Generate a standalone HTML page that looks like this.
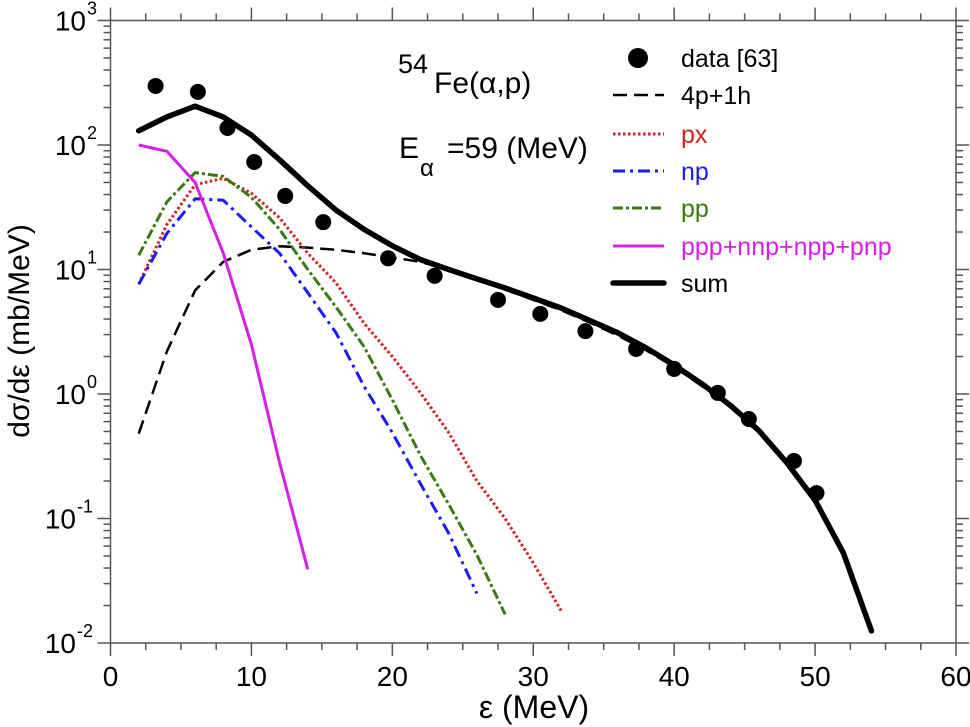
<!DOCTYPE html>
<html><head><meta charset="utf-8"><style>
html,body{margin:0;padding:0;background:#fff;}
svg{display:block;font-family:"Liberation Sans",Arial,sans-serif;}
</style></head><body>
<svg id="chart" width="970" height="727" viewBox="0 0 970 727" xmlns="http://www.w3.org/2000/svg">
<g id="axes"></g>
<g id="series"></g>
<g id="legend"></g>
<text x="29" y="331" font-size="30" text-anchor="middle" transform="rotate(-90 29 331)">dσ/dε (mb/MeV)</text>
<text x="534" y="718" font-size="32" text-anchor="middle">ε (MeV)</text>
<g>
<text x="398" y="73" font-size="27">54</text>
<text x="434" y="93" font-size="30">Fe(α,p)</text>
<text x="399" y="158" font-size="30">E</text>
<text x="420" y="176" font-size="24">α</text>
<text x="447" y="158" font-size="30">=59 (MeV)</text>
</g>
</svg>
<script>
const energies=[2,4,6,8,10,12,14,16,18,20,22,24,26,28,30,32,34,36,38,40,42,44,46,48,50,52,54];
const sumVals=[130,168,205,168,120,76,47,30,21,15.5,12,10,8.4,7.1,5.9,4.9,3.9,3.1,2.35,1.71,1.2,0.81,0.51,0.28,0.14,0.053,0.0125];
const holeVals=[0.48,2.2,6.8,11.5,14.4,15.4,15,14.4,13.5,12.5,11.5,10,8.3,6.9,5.7,4.7,3.75,2.95,2.25,1.65,1.15,0.78,0.49,0.27,0.135,0.052,0.0123];
const pxE=[2,4,6,8,10,12,14,16,18,20,22,24,26,28,30,32];
const pxVals=[7.6,23,48,54,41,26,13.5,7.8,3.7,2.0,1.02,0.49,0.2,0.1,0.044,0.018];
const npE=[2,4,6,8,10,12,14,16,18,20,22,24,26];
const npVals=[7.6,19.5,37,36,22,13.5,6.5,3.1,1.15,0.49,0.19,0.076,0.025];
const ppE=[2,4,6,8,10,12,14,16,18,20,22,24,26,28];
const ppVals=[13,35,60,56,38,21,10,5.0,2.4,0.9,0.32,0.13,0.051,0.017];
const mixE=[2,4,6,8,10,12,14];
const mixVals=[100,89,50,13.6,2.5,0.28,0.039];
const dataE=[3.2,6.2,8.3,10.2,12.4,15.1,19.7,23.0,27.5,30.5,33.7,37.3,40.0,43.1,45.3,48.5,50.1];
const dataVals=[298,267,137,73,39,24,12.3,8.9,5.7,4.4,3.2,2.3,1.59,1.02,0.63,0.29,0.16];
const xTicks=[0,10,20,30,40,50,60];
const yExps=[-2,-1,0,1,2,3];

const NS="http://www.w3.org/2000/svg";
const X0=110.5,X1=956,Y0=643,Y1=20.5;
function xs(e){return X0+(e/60)*(X1-X0);}
function ys(v){return Y0-(Math.log10(v)+2)/5*(Y0-Y1);}
function mk(tag,attrs,parent){const el=document.createElementNS(NS,tag);for(const k in attrs)el.setAttribute(k,attrs[k]);parent.appendChild(el);return el;}
const axes=document.getElementById('axes');
const AX="#555";
let fr=mk('rect',{x:X0,y:Y1,width:X1-X0,height:Y0-Y1,fill:'none',stroke:AX,'stroke-width':1.5},axes);


for(let e=0;e<=60;e+=2.5){
  const major=e%10===0;const L=major?13:7;const x=xs(e);
  let t=mk('line',{x1:x,x2:x,y1:Y0,y2:Y0+L,stroke:AX,'stroke-width':1.5},axes);
  
  
  mk('line',{x1:x,x2:x,y1:Y1,y2:Y1-L,stroke:AX,'stroke-width':1.5},axes);
}
xTicks.forEach(v=>{
  const t=mk('text',{x:xs(v),y:686,'font-size':28,'text-anchor':'middle'},axes);
  t.textContent=v;
  
  
});
yExps.forEach(p=>{
  for(let m=1;m<=9;m++){
    if(p===3&&m>1)break;
    const y=ys(m*Math.pow(10,p));const L=m===1?13:7;
    let t=mk('line',{x1:X0-L,x2:X0,y1:y,y2:y,stroke:AX,'stroke-width':1.5},axes);
    
    
    mk('line',{x1:X1,x2:X1+L,y1:y,y2:y,stroke:AX,'stroke-width':1.5},axes);
  }
  const y=ys(Math.pow(10,p));
  const expStr=String(p);
  const expW=expStr.length*10;
  const g=mk('text',{x:96-expW,y:y+10,'font-size':28,'text-anchor':'end'},axes);
  g.textContent='10';
  
  
  const s=mk('text',{x:96-expW+1,y:y-6,'font-size':18},axes);
  s.textContent=expStr;
  
  
});
const ser=document.getElementById('series');
function line(E,V,style,name){
  const pts=E.map((e,i)=>xs(e).toFixed(1)+','+ys(V[i]).toFixed(1)).join(' ');
  const pl=mk('polyline',Object.assign({points:pts,fill:'none','stroke-linejoin':'round'},style),ser);
  
  
}
const S={
 hole:{stroke:'#000','stroke-width':2.5,'stroke-dasharray':'14 7'},
 px:{stroke:'#d42020','stroke-width':3,'stroke-dasharray':'2.5 2.5'},
 np:{stroke:'#1a1aff','stroke-width':3,'stroke-dasharray':'12 5 3 5'},
 pp:{stroke:'#3a7a10','stroke-width':3,'stroke-dasharray':'10 3 3 3'},
 mix:{stroke:'#d81ee8','stroke-width':3},
 sum:{stroke:'#000','stroke-width':5.5,'stroke-linecap':'round'}
};
line(energies,holeVals,S.hole,'line-4p1h');
line(pxE,pxVals,S.px,'line-px');
line(npE,npVals,S.np,'line-np');
line(ppE,ppVals,S.pp,'line-pp');
line(mixE,mixVals,S.mix,'line-ppp-nnp-npp-pnp');
line(energies,sumVals,S.sum,'line-sum');
dataE.forEach((e,i)=>{
  const c=mk('circle',{cx:xs(e),cy:ys(dataVals[i]),r:8,fill:'#000'},ser);
  
  
});
const leg=document.getElementById('legend');
const items=[['data [63]',null,'#000'],['4p+1h',S.hole,'#000'],['px',S.px,'#d42020'],['np',S.np,'#1a1aff'],['pp',S.pp,'#3a7a10'],['ppp+nnp+npp+pnp',S.mix,'#d81ee8'],['sum',S.sum,'#000']];
const rowY=[58,95,134,171,208,246,283];
items.forEach((it,i)=>{
  const y=rowY[i];
  const g=mk('g',{},leg);
  
  
  if(it[1]){mk('line',Object.assign({x1:613,x2:664,y1:y,y2:y},it[1]),g);}
  else{mk('circle',{cx:638,cy:y,r:10,fill:'#000'},g);}
  const t=mk('text',{x:681,y:y+9,'font-size':25,fill:it[2]},g);
  t.textContent=it[0];
});
</script>
</body></html>
